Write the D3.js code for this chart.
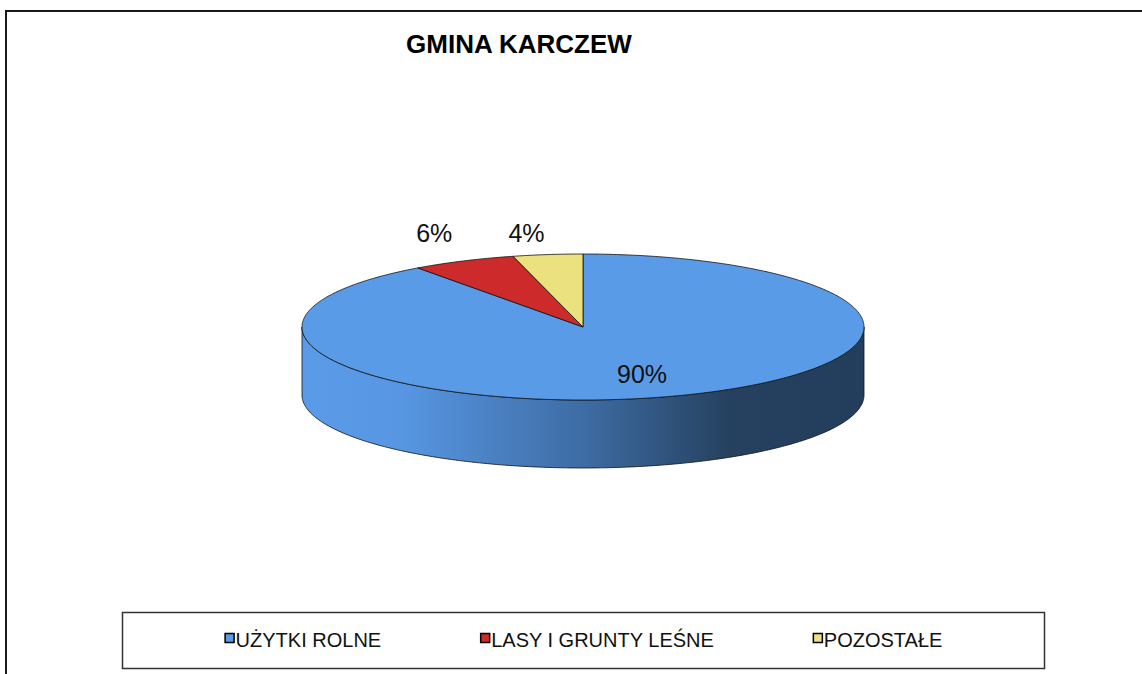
<!DOCTYPE html>
<html>
<head>
<meta charset="utf-8">
<script src="https://d3js.org/d3.v7.min.js"></script>
<style>
  body { margin: 0; background: #fff; }
  text { font-family: "Liberation Sans", Arial, sans-serif; }
</style>
</head>
<body>
<svg id="chart" width="1142" height="674"></svg>
<script>
  // data
  const categories = ["UŻYTKI ROLNE", "LASY I GRUNTY LEŚNE", "POZOSTAŁE"]
  const values = [90, 6, 4]
  const colors = ["#5a9be8", "#cc2a2b", "#ece17f"]
  const title = "GMINA KARCZEW"

  const svg = d3.select("#chart")

  // 3d pie geometry
  const cx = 583, cy = 327, rx = 281, ry = 73, depth = 68

  // point on top ellipse for angle measured clockwise from 12 o'clock
  const ex = (a, k = 1) => cx + rx * k * Math.sin(a)
  const ey = (a, k = 1) => cy - ry * k * Math.cos(a)

  const pie = d3.pie().sort(null).startAngle(0).endAngle(2 * Math.PI)
  const arcs = pie(values)

  function slicePath(d) {
    const n = Math.max(4, Math.ceil((d.endAngle - d.startAngle) / 0.01))
    const pts = [[cx, cy]]
    for (let i = 0; i <= n; i++) {
      const a = d.startAngle + (d.endAngle - d.startAngle) * i / n
      pts.push([ex(a), ey(a)])
    }
    return d3.line()(pts) + "Z"
  }

  function sidePath(a0, a1) {
    const n = 200
    const top = [], bottom = []
    for (let i = 0; i <= n; i++) {
      const a = a0 + (a1 - a0) * i / n
      top.push([ex(a), ey(a)])
      bottom.push([ex(a), ey(a) + depth])
    }
    return d3.line()(top.concat(bottom.reverse())) + "Z"
  }

  // frame
  svg.append("rect")
    .attr("x", 6).attr("y", 11)
    .attr("width", 1300).attr("height", 800)
    .attr("fill", "none")
    .attr("stroke", "#1a1a1a")
    .attr("stroke-width", 2)

  // title
  svg.append("text")
    .attr("x", 519).attr("y", 53)
    .attr("text-anchor", "middle")
    .attr("font-size", 26)
    .attr("font-weight", "bold")
    .attr("fill", "#000")
    .text(title)

  // side gradient
  const defs = svg.append("defs")
  const grad = defs.append("linearGradient")
    .attr("id", "sideGrad")
    .attr("gradientUnits", "userSpaceOnUse")
    .attr("x1", cx - rx).attr("x2", cx + rx)
    .attr("y1", 0).attr("y2", 0)
  grad.append("stop").attr("offset", "0%").attr("stop-color", "#5a9be8")
  grad.append("stop").attr("offset", "18%").attr("stop-color", "#5796e2")
  grad.append("stop").attr("offset", "50%").attr("stop-color", "#3e6ca4")
  grad.append("stop").attr("offset", "76%").attr("stop-color", "#25415f")
  grad.append("stop").attr("offset", "100%").attr("stop-color", "#233e5c")

  // front side: the first slice covers the whole visible front half
  svg.append("path")
    .attr("d", sidePath(Math.PI / 2, 3 * Math.PI / 2))
    .attr("fill", "url(#sideGrad)")
    .attr("stroke", "#111")
    .attr("stroke-width", 0.8)

  // top faces
  svg.selectAll(".slice")
    .data(arcs)
    .enter()
    .append("path")
    .attr("class", "slice")
    .attr("d", slicePath)
    .attr("fill", (d, i) => colors[i])
    .attr("stroke", "#111")
    .attr("stroke-width", 0.8)
    .attr("stroke-linejoin", "round")

  // data labels
  const fmt = (d) => Math.round(d.value / d3.sum(values) * 100) + "%"
  svg.selectAll(".label")
    .data(arcs)
    .enter()
    .append("text")
    .attr("class", "label")
    .attr("text-anchor", "middle")
    .attr("font-size", 25)
    .attr("fill", "#111")
    .attr("x", function (d) {
      const a = (d.startAngle + d.endAngle) / 2
      if (d.index === 0) return ex(a, 0.68)
      return ex(a) + 26 * Math.sin(a) - 18
    })
    .attr("y", function (d) {
      const a = (d.startAngle + d.endAngle) / 2
      if (d.index === 0) return ey(a, 0.68) + 9
      return Math.min(ey(a) - 8, cy - ry - 12)
    })
    .text(fmt)

  // legend
  svg.append("rect")
    .attr("x", 122.5).attr("y", 612.5)
    .attr("width", 922).attr("height", 56)
    .attr("fill", "#fff")
    .attr("stroke", "#333")
    .attr("stroke-width", 1.5)

  const item = svg.selectAll(".legend")
    .data(categories)
    .enter()
    .append("g")
    .attr("class", "legend")
  item.append("rect")
    .attr("x", 0.5).attr("y", 0.5)
    .attr("width", 9).attr("height", 9)
    .attr("fill", (d, i) => colors[i])
    .attr("stroke", "#000")
    .attr("stroke-width", 1.5)
  item.append("text")
    .attr("x", 11).attr("y", 14)
    .attr("font-size", 20)
    .attr("fill", "#111")
    .text((d) => d)

  // lay legend items out centred in the box with equal gaps
  const itemGap = 99
  const widths = []
  item.each(function () { widths.push(11 + d3.select(this).select("text").node().getComputedTextLength()) })
  const total = d3.sum(widths) + itemGap * (widths.length - 1)
  let lx = 122.5 + 922 / 2 - total / 2
  item.attr("transform", function (d, i) {
    const t = `translate(${lx},633)`
    lx += widths[i] + itemGap
    return t
  })
</script>
</body>
</html>
